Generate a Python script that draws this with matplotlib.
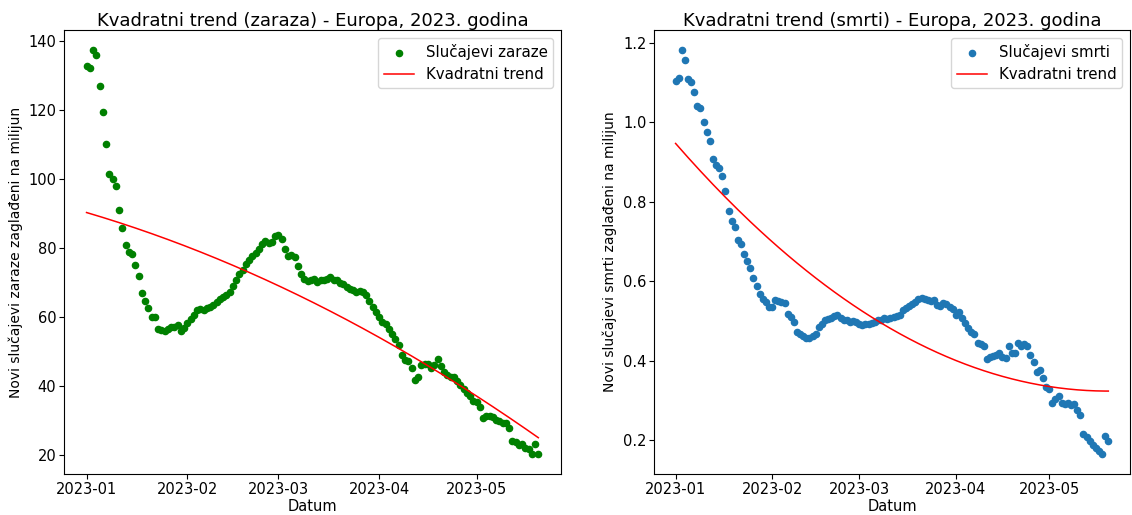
import numpy as np
import pandas as pd
import matplotlib
matplotlib.use("Agg")
import matplotlib.pyplot as plt
import matplotlib.dates as mdates

# daily values, 2023-01-01 .. 2023-05-20
dates = pd.date_range("2023-01-01", periods=140, freq="D")

cases_per_million = [
    132.7, 132.2, 137.4, 136.0, 127.0, 119.5, 110.1, 101.6, 100.1, 97.9,
    91.1, 85.8, 80.9, 79.0, 78.4, 75.0, 71.9, 67.1, 64.6, 62.5,
    60.1, 60.1, 56.6, 56.3, 55.9, 56.4, 57.0, 57.1, 57.8, 55.9,
    56.8, 58.4, 59.5, 60.5, 61.9, 62.2, 61.9, 62.5, 62.9, 63.6,
    64.4, 65.1, 65.7, 66.3, 67.3, 69.0, 70.7,
    72.6, 73.5, 75.3, 76.6, 77.7, 78.6, 79.7, 81.3, 82.0, 81.6,
    81.8, 83.4, 83.8, 82.6, 79.8, 77.6, 77.9, 77.4, 74.9, 72.6,
    70.9, 70.4, 70.8, 71.0, 70.3, 70.6, 70.8, 71.1, 71.6, 70.7,
    70.8, 69.9, 69.5, 68.7, 68.2, 67.8, 67.3, 67.6, 67.3, 66.3,
    64.6, 62.9, 61.5, 59.9, 58.5,
    58.1, 56.5, 55.0, 53.5, 51.9, 48.9, 47.5, 47.1, 45.1, 41.7,
    42.7, 46.1, 46.5, 46.3, 45.2, 46.0, 47.7, 45.8, 44.0, 43.2,
    42.5, 42.7, 41.5, 40.3, 39.0, 37.9, 37.0, 35.7, 35.3, 33.8,
    30.8, 31.3, 31.3, 30.9, 30.2, 29.7, 29.1, 29.3, 27.8, 24.0,
    23.7, 22.9, 23.1, 21.9, 21.7, 20.3, 23.2, 20.3,
]

deaths_per_million = [
    1.105, 1.113, 1.182, 1.157, 1.109, 1.102, 1.076, 1.041, 1.037, 1.002,
    0.977, 0.953, 0.909, 0.892, 0.886, 0.864, 0.828, 0.776, 0.751, 0.736,
    0.705, 0.695, 0.669, 0.652, 0.634, 0.609, 0.587, 0.567, 0.555, 0.548,
    0.536, 0.534, 0.552, 0.550, 0.548, 0.544, 0.518, 0.510, 0.497, 0.472,
    0.466, 0.461, 0.457, 0.457, 0.461, 0.466,
    0.485, 0.493, 0.502, 0.506, 0.508, 0.512, 0.515, 0.508, 0.503, 0.502,
    0.497, 0.500, 0.497, 0.493, 0.490, 0.491, 0.493, 0.495, 0.498, 0.502,
    0.503, 0.508, 0.505, 0.508, 0.510, 0.512, 0.515, 0.527, 0.532, 0.537,
    0.542, 0.547, 0.555, 0.557, 0.556, 0.552, 0.550, 0.553, 0.541, 0.537,
    0.545, 0.542, 0.535, 0.530, 0.515, 0.523,
    0.508, 0.495, 0.482, 0.471, 0.467, 0.445, 0.441, 0.436, 0.405, 0.410,
    0.411, 0.413, 0.418, 0.410, 0.407, 0.436, 0.420, 0.418, 0.445, 0.436,
    0.441, 0.436, 0.413, 0.396, 0.371, 0.376, 0.355, 0.334, 0.329, 0.294,
    0.303, 0.311, 0.294, 0.290, 0.293, 0.288, 0.290, 0.276, 0.263, 0.215,
    0.207, 0.198, 0.186, 0.179, 0.171, 0.165, 0.209, 0.198,
]

panels = [
    (cases_per_million, "green", "Slučajevi zaraze",
     "Kvadratni trend (zaraza) - Europa, 2023. godina",
     "Novi slučajevi zaraze zaglađeni na milijun"),
    (deaths_per_million, "#1f77b4", "Slučajevi smrti",
     "Kvadratni trend (smrti) - Europa, 2023. godina",
     "Novi slučajevi smrti zaglađeni na milijun"),
]

fig = plt.figure(figsize=(11.32, 5.15), dpi=100)
axes = [
    fig.add_axes([0.0565, 0.0796, 0.439, 0.862]),
    fig.add_axes([0.5777, 0.0796, 0.4205, 0.862]),
]

x_num = mdates.date2num(dates)

for ax, (values, color, lab, title, ylab) in zip(axes, panels):
    y = np.array(values)
    # quadratic fit over day number
    coeffs = np.polyfit(x_num - x_num[0], y, 2)
    trend = np.polyval(coeffs, x_num - x_num[0])

    ax.scatter(dates, y, s=20, color=color, label=lab, zorder=2)
    ax.plot(dates, trend, color="red", linewidth=1.1, label="Kvadratni trend")

    ax.set_title(title, fontsize=13, pad=3)
    ax.set_xlabel("Datum", fontsize=10.5, labelpad=1)
    ax.set_ylabel(ylab, fontsize=10, labelpad=4)
    ax.xaxis.set_major_locator(mdates.MonthLocator())
    ax.xaxis.set_major_formatter(mdates.DateFormatter("%Y-%m"))
    ax.tick_params(axis="x", labelsize=10.5, pad=2.5)
    ax.tick_params(axis="y", labelsize=10.5, pad=2)
    ax.legend(loc="upper right", fontsize=10.8)

fig.savefig("out.png", dpi=100)
